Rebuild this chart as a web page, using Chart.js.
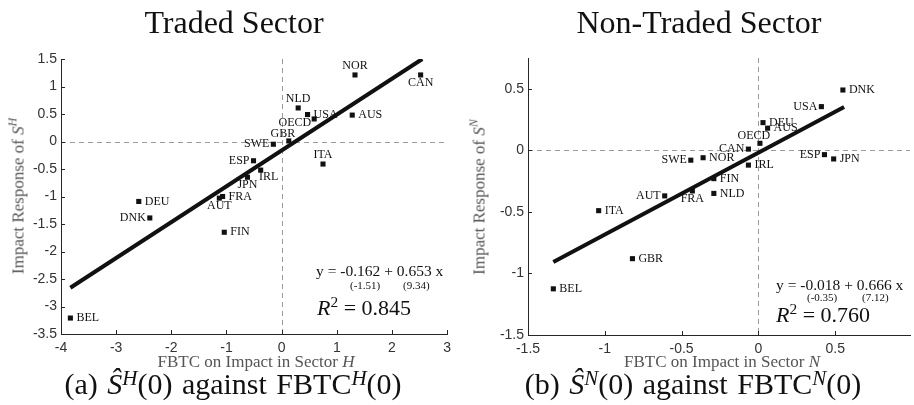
<!DOCTYPE html>
<html>
<head>
<meta charset="utf-8">
<script src="https://cdn.jsdelivr.net/npm/chart.js@4.4.0/dist/chart.umd.min.js"></script>
<style>
  body { margin: 0; width: 914px; height: 405px; overflow: hidden; background: #fff; position: relative; font-family: "Liberation Serif", serif; }
  .box { position: absolute; top: 0; width: 457px; height: 405px; }
  .t { position: absolute; white-space: nowrap; color: #111; line-height: 1; }
  .ttl { font-size: 32px; width: 400px; text-align: center; top: 6px; }
  .cap { font-size: 30px; width: 440px; text-align: center; top: 369px; word-spacing: 2px; }
  .cap .sp { top: -0.45em; }
  .ax { font-size: 17px; color: #555; width: 300px; text-align: center; }
  .yt { font-size: 17px; color: #555; transform: translate(-50%, -50%) rotate(-90deg); }
  .eq { font-size: 15.5px; }
  .se { font-size: 11px; }
  .r2 { font-size: 22px; }
  .sp { font-size: 0.7em; position: relative; top: -0.55em; }
</style>
</head>
<body>
<div class="box" style="left:0"><canvas id="chartH" width="457" height="405"></canvas></div>
<div class="box" style="left:457px"><canvas id="chartN" width="457" height="405"></canvas></div>

<div class="t ttl" style="left:34px">Traded Sector</div>
<div class="t ttl" style="left:499px">Non-Traded Sector</div>

<div class="t ax" style="left:106px; top:353px">FBTC on Impact in Sector <i>H</i></div>
<div class="t ax" style="left:572px; top:353px">FBTC on Impact in Sector <i>N</i></div>
<div class="t yt" style="left:18px; top:196px">Impact Response of <i>S</i><span class="sp"><i>H</i></span></div>
<div class="t yt" style="left:479px; top:197px">Impact Response of <i>S</i><span class="sp"><i>N</i></span></div>

<div class="t eq" style="left:316px; top:263px">y = -0.162 + 0.653 x</div>
<div class="t se" style="left:350px; top:280px">(-1.51)</div>
<div class="t se" style="left:403px; top:280px">(9.34)</div>
<div class="t r2" style="left:317px; top:297px"><i>R</i><span class="sp">2</span> = 0.845</div>

<div class="t eq" style="left:776px; top:277px">y = -0.018 + 0.666 x</div>
<div class="t se" style="left:807px; top:292px">(-0.35)</div>
<div class="t se" style="left:862px; top:292px">(7.12)</div>
<div class="t r2" style="left:776px; top:304px"><i>R</i><span class="sp">2</span> = 0.760</div>

<div class="t cap" style="left:13px">(a) <i>Ŝ</i><span class="sp"><i>H</i></span>(0) against FBTC<span class="sp"><i>H</i></span>(0)</div>
<div class="t cap" style="left:473px">(b) <i>Ŝ</i><span class="sp"><i>N</i></span>(0) against FBTC<span class="sp"><i>N</i></span>(0)</div>

<script>
// Traded sector
const countriesH = ["NOR", "CAN", "NLD", "USA", "OECD", "AUS", "GBR", "SWE", "ESP", "IRL", "JPN", "ITA", "FRA", "AUT", "DEU", "DNK", "FIN", "BEL"];
const fbtcH = [1.33, 2.52, 0.30, 0.47, 0.59, 1.28, 0.13, -0.15, -0.51, -0.38, -0.62, 0.75, -1.07, -1.13, -2.59, -2.39, -1.04, -3.83];
const respH = [1.21, 1.21, 0.61, 0.49, 0.41, 0.48, 0.01, -0.05, -0.35, -0.52, -0.65, -0.41, -1.00, -1.03, -1.09, -1.39, -1.65, -3.21];
const fitXH = [-3.83, 2.55];
const fitYH = [-2.66, 1.50];
const placeH = ["n", "s", "n", "e", "sw", "e", "nw", "w", "w", "se", "s", "n", "e", "s", "e", "w", "e", "e"];

// Non-traded sector
const countriesN = ["DNK", "USA", "DEU", "AUS", "OECD", "CAN", "ESP", "JPN", "SWE", "NOR", "IRL", "FIN", "NLD", "FRA", "AUT", "ITA", "GBR", "BEL"];
const fbtcN = [0.55, 0.41, 0.03, 0.06, 0.01, -0.065, 0.43, 0.49, -0.44, -0.36, -0.065, -0.29, -0.29, -0.43, -0.61, -1.04, -0.82, -1.335];
const respN = [0.49, 0.355, 0.225, 0.18, 0.057, 0.01, -0.035, -0.07, -0.08, -0.06, -0.12, -0.23, -0.35, -0.33, -0.37, -0.49, -0.88, -1.125];
const fitXN = [-1.335, 0.558];
const fitYN = [-0.907, 0.352];
const placeN = ["e", "w", "e", "e", "nw", "w", "w", "e", "w", "e", "e", "e", "e", "s", "w", "e", "e", "e"];

const offsets = {
  e: [6, 0, "left"], w: [-4, 0, "right"], n: [0, -9, "center"], s: [0, 8, "center"],
  se: [8, 7, "center"], sw: [-3, 4, "right"], nw: [-6, -7, "center"]
};

const extras = {
  id: "extras",
  beforeDatasetsDraw(chart) {
    const { ctx, chartArea: a, scales: { x, y } } = chart;
    ctx.save();
    ctx.strokeStyle = "#9a9a9a";
    ctx.lineWidth = 1;
    ctx.setLineDash([5, 4]);
    const x0 = Math.round(x.getPixelForValue(0)) + 0.5;
    const y0 = Math.round(y.getPixelForValue(0)) + 0.5;
    ctx.beginPath();
    ctx.moveTo(x0, a.top); ctx.lineTo(x0, a.bottom);
    ctx.moveTo(a.left, y0); ctx.lineTo(a.right, y0);
    ctx.stroke();
    ctx.restore();
  },
  afterDraw(chart) {
    const { ctx, chartArea: a, scales: { x, y } } = chart;
    const o = chart.options.plugins.extras;
    ctx.save();
    // inward tick marks
    ctx.strokeStyle = "#262626";
    ctx.lineWidth = 1;
    ctx.beginPath();
    x.ticks.forEach(t => {
      const px = Math.round(x.getPixelForValue(t.value)) + 0.5;
      ctx.moveTo(px, a.bottom); ctx.lineTo(px, a.bottom - 4);
    });
    y.ticks.forEach(t => {
      const py = Math.round(y.getPixelForValue(t.value)) + 0.5;
      ctx.moveTo(a.left, py); ctx.lineTo(a.left + 4, py);
    });
    ctx.stroke();
    // country labels
    ctx.font = "12px 'Liberation Serif'";
    ctx.fillStyle = "#111";
    ctx.textBaseline = "middle";
    const pts = chart.data.datasets[1].data;
    pts.forEach((p, i) => {
      const off = offsets[o.place[i]];
      ctx.textAlign = off[2];
      ctx.fillText(o.names[i], x.getPixelForValue(p.x) + off[0], y.getPixelForValue(p.y) + off[1]);
    });
    ctx.restore();
  }
};

function makeChart(id, names, xs, ys, fitX, fitY, place, xr, yr, yWidth, pad) {
  new Chart(document.getElementById(id), {
    type: "scatter",
    data: {
      datasets: [
        {
          data: fitX.map((v, i) => ({ x: v, y: fitY[i] })),
          showLine: true,
          borderColor: "#111",
          borderWidth: 4,
          pointRadius: 0
        },
        {
          data: xs.map((v, i) => ({ x: v, y: ys[i] })),
          pointStyle: "rect",
          pointRadius: 3.6,
          backgroundColor: "#111",
          borderWidth: 0
        }
      ]
    },
    options: {
      responsive: false,
      animation: false,
      layout: { padding: pad },
      plugins: {
        legend: { display: false },
        tooltip: { enabled: false },
        extras: { names: names, place: place }
      },
      scales: {
        x: {
          type: "linear",
          min: xr[0], max: xr[1],
          grid: { display: false, drawTicks: false },
          border: { color: "#262626", width: 1 },
          ticks: { stepSize: xr[2], includeBounds: false, padding: 6, color: "#333",
                   font: { family: "'Liberation Sans'", size: 14 }, maxRotation: 0,
                   callback: v => String(v) },
          afterFit: s => { s.height = 30; }
        },
        y: {
          type: "linear",
          min: yr[0], max: yr[1],
          grid: { display: false, drawTicks: false },
          border: { color: "#262626", width: 1 },
          ticks: { stepSize: yr[2], includeBounds: false, padding: 4, color: "#333",
                   font: { family: "'Liberation Sans'", size: 14 },
                   callback: v => String(v) },
          afterFit: s => { s.width = yWidth; }
        }
      }
    },
    plugins: [extras]
  });
}

makeChart("chartH", countriesH, fbtcH, respH, fitXH, fitYH, placeH,
  [-4, 3, 1], [-3.5, 1.5, 0.5], 61, { left: 0, right: 7, top: 59, bottom: 41 });
makeChart("chartN", countriesN, fbtcN, respN, fitXN, fitYN, placeN,
  [-1.5, 0.987, 0.5], [-1.5, 0.75, 0.5], 71, { left: 0, right: 0, top: 58, bottom: 40 });
</script>
</body>
</html>
